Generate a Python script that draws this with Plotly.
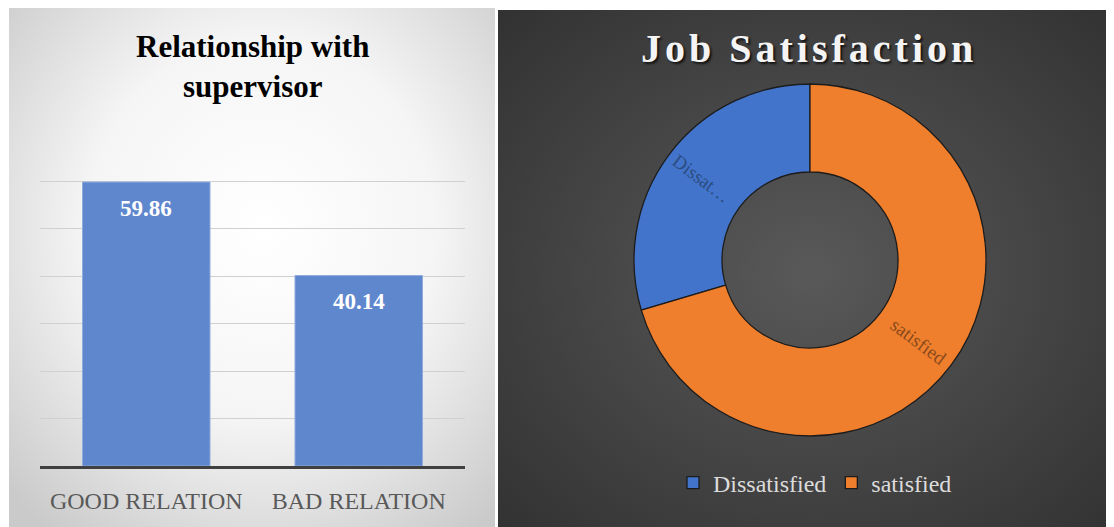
import base64
import math
import plotly.graph_objects as go

# ---------------- data ----------------
relation_categories = ["GOOD RELATION", "BAD RELATION"]
relation_values = [59.86, 40.14]

satisfaction_labels = ["Dissatisfied", "satisfied"]
satisfaction_values = [29.6, 70.4]
satisfaction_slice_text = ["Dissat…", "satisfied"]
satisfaction_colors = ["#4274cc", "#ef7f2c"]
satisfaction_text_colors = ["#2c4c80", "#8a4a1c"]

W, H = 1114, 527
OFF = 8  # page body margin offset of the plot div


def px_x(x):
    return (x - OFF) / W


def px_y(y):
    return 1 - (y - OFF) / H


def svg_uri(svg):
    return "data:image/svg+xml;base64," + base64.b64encode(svg.encode()).decode()


left_bg = svg_uri(
    "<svg xmlns='http://www.w3.org/2000/svg' width='486' height='520' viewBox='0 0 486 520' preserveAspectRatio='none'>"
    "<defs><radialGradient id='g' cx='52%' cy='42%' r='72%'>"
    "<stop offset='0' stop-color='#ffffff'/><stop offset='0.5' stop-color='#f5f5f5'/>"
    "<stop offset='1' stop-color='#cacaca'/></radialGradient></defs>"
    "<rect width='486' height='520' fill='url(#g)'/></svg>"
)
right_bg = svg_uri(
    "<svg xmlns='http://www.w3.org/2000/svg' width='616' height='517' viewBox='0 0 616 517' preserveAspectRatio='none'>"
    "<defs><radialGradient id='g' cx='50%' cy='50%' r='70%'>"
    "<stop offset='0' stop-color='#595959'/><stop offset='1' stop-color='#323232'/></radialGradient></defs>"
    "<rect width='616' height='517' fill='url(#g)'/></svg>"
)

fig = go.Figure()

fig.add_trace(go.Bar(
    x=relation_categories,
    y=relation_values,
    marker=dict(color="#5f87cd", line=dict(color="#8eaade", width=1)),
    showlegend=False,
    hoverinfo="x+y",
))

# donut geometry (pixels of the page)
PIE_L, PIE_R, PIE_T, PIE_B = 634, 986, 84, 436
pie_cx, pie_cy = (PIE_L + PIE_R) / 2, (PIE_T + PIE_B) / 2
pie_r = (PIE_B - PIE_T) / 2

total = sum(satisfaction_values)
first_share = satisfaction_values[0] / total
rotation = -360 * first_share  # first slice ends at 12 o'clock

fig.add_trace(go.Pie(
    labels=satisfaction_labels,
    values=satisfaction_values,
    textinfo="none",
    hole=0.5,
    sort=False,
    direction="clockwise",
    rotation=rotation,
    marker=dict(colors=satisfaction_colors, line=dict(color="#1c1c1c", width=1.3)),
    domain=dict(x=[px_x(PIE_L), px_x(PIE_R)], y=[px_y(PIE_B), px_y(PIE_T)]),
    showlegend=True,
))

annotations = [
    dict(
        text="<b>Relationship with<br>supervisor</b>",
        x=px_x(252), y=px_y(66), xref="paper", yref="paper",
        xanchor="center", yanchor="middle", showarrow=False,
        font=dict(family="Liberation Serif", size=31, color="#000000"),
    ),
    dict(
        text="<b><span style='letter-spacing:4px'>Job Satisfaction</span></b>",
        x=px_x(809), y=px_y(49), xref="paper", yref="paper",
        xanchor="center", yanchor="middle", showarrow=False,
        font=dict(family="Liberation Serif", size=40, color="#f4f4f4",
                  shadow="2px 2px 2px #151515"),
    ),
]
for cat, val in zip(relation_categories, relation_values):
    annotations.append(dict(
        text=f"<b>{val:.2f}</b>", x=cat, y=val, xref="x", yref="y",
        yshift=-26, yanchor="middle", showarrow=False,
        font=dict(family="Liberation Serif", size=23, color="#ffffff"),
    ))

# radial slice labels at each slice's mid angle (Excel-style radial data labels)
cum = 0.0
label_r = pie_r * 0.77
for txt, val, col in zip(satisfaction_slice_text, satisfaction_values, satisfaction_text_colors):
    mid = rotation + (cum + val / 2) / total * 360  # degrees clockwise from 12 o'clock
    cum += val
    th = math.radians(mid)
    lx = pie_cx + label_r * math.sin(th)
    ly = pie_cy - label_r * math.cos(th)
    ang = mid - 90
    while ang > 90:
        ang -= 180
    while ang <= -90:
        ang += 180
    annotations.append(dict(
        text=txt, x=px_x(lx), y=px_y(ly), xref="paper", yref="paper",
        xanchor="center", yanchor="middle", showarrow=False, textangle=ang,
        font=dict(family="Liberation Serif", size=19, color=col),
    ))

fig.update_layout(
    width=W, height=H,
    margin=dict(l=0, r=0, t=0, b=0),
    paper_bgcolor="#ffffff",
    plot_bgcolor="rgba(0,0,0,0)",
    bargap=0.4,
    xaxis=dict(
        domain=[px_x(40), px_x(465)],
        showgrid=False, showline=True, linecolor="#404040", linewidth=3,
        ticks="", tickfont=dict(family="Liberation Serif", size=24, color="#595959"),
        ticklabelstandoff=11, fixedrange=True, automargin=False,
    ),
    yaxis=dict(
        domain=[px_y(466), px_y(133)],
        range=[0, 70.2], dtick=10, showticklabels=False,
        showgrid=True, gridcolor="#d0d0d0", gridwidth=1,
        zeroline=False, showline=False, fixedrange=True, automargin=False,
    ),
    legend=dict(
        orientation="h", x=px_x(815), xanchor="center", y=px_y(483), yanchor="middle",
        font=dict(family="Liberation Serif", size=24, color="#dcdcdc"),
        bgcolor="rgba(0,0,0,0)", itemclick=False, itemdoubleclick=False,
    ),
    annotations=annotations,
    images=[
        dict(source=left_bg, xref="paper", yref="paper", x=px_x(9), y=px_y(7),
             sizex=(495 - 9) / W, sizey=(535 - 7) / H, sizing="stretch",
             xanchor="left", yanchor="top", layer="below"),
        dict(source=right_bg, xref="paper", yref="paper", x=px_x(498), y=px_y(10),
             sizex=(1122 - 498) / W, sizey=(535 - 10) / H, sizing="stretch",
             xanchor="left", yanchor="top", layer="below"),
    ],
)

fig.write_html("out.html")
